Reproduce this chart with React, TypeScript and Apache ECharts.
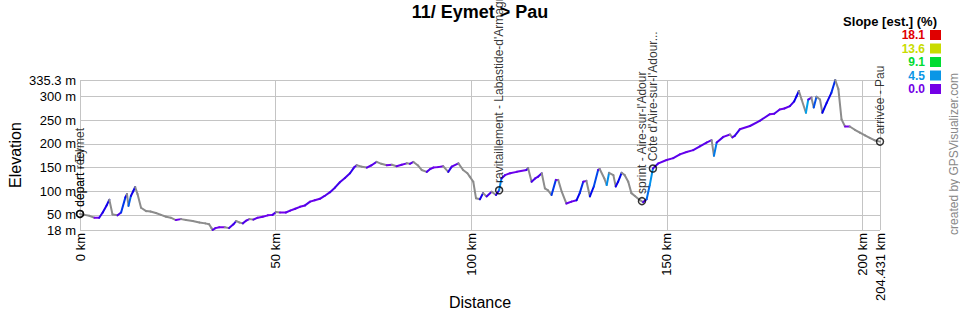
import React, { useEffect, useRef } from "react";
import * as echarts from "echarts";

const distanceKm = [
  0, 1.2, 2.4, 3.7, 4.9, 5.8, 6.8, 7.5, 8.3, 9.6, 10.5, 11.6, 12.0, 12.4, 13.0, 13.6, 14.1, 14.7, 15.6, 16.9,
  18.0, 19.4, 20.7, 22.0, 23.2, 24.5, 25.8, 27.1, 28.8, 30.5, 32.0, 33.0, 33.6, 33.9, 34.6, 35.6, 37.0, 38.1, 39.2, 39.9,
  40.7, 41.6, 42.5, 43.3, 44.3, 45.4, 46.7, 48.0, 49.2, 50.1, 51.1, 52.6, 53.7, 55.0, 56.2, 57.5, 58.8, 60.0, 61.3, 62.5,
  63.9, 65.2, 66.4, 67.7, 69.0, 70.0, 70.7, 72.0, 73.3, 74.5, 75.8, 77.0, 78.4, 79.7, 80.9, 82.2, 83.5, 84.3, 85.2, 86.3,
  87.3, 88.6, 89.5, 90.3, 91.5, 92.8, 94.1, 95.0, 96.7, 97.9, 99.0, 99.6, 100.5, 101.2, 102.2, 103.0, 103.9, 105.2, 106.3, 107.1,
  107.7, 108.6, 109.9, 111.6, 114.1, 114.5, 115.4, 116.3, 117.1, 118.0, 118.8, 119.6, 120.5, 121.6, 122.2, 123.1, 124.3, 125.6, 126.9, 127.7,
  128.6, 129.4, 130.3, 131.3, 132.4, 132.8, 134.0, 134.6, 135.2, 136.3, 136.9, 137.5, 138.4, 139.2, 140.1, 140.9, 141.8, 143.1, 143.9, 144.8,
  145.6, 146.4, 147.8, 149.9, 151.6, 153.3, 155.0, 156.7, 158.4, 160.1, 161.4, 162.0, 162.7, 164.4, 166.1, 166.7, 167.3, 168.6, 171.2, 173.7,
  176.3, 177.4, 178.8, 180.0, 181.4, 182.5, 183.1, 183.7, 184.4, 185.5, 186.1, 186.9, 187.5, 188.2, 189.1, 189.7, 190.8, 192.0, 193.0, 193.8,
  194.6, 195.5, 196.7, 198.0, 199.3, 200.6, 201.8, 203.0, 204.431
];

const elevationM = [
  52, 50, 48, 44, 44, 55, 70, 82, 51, 49, 55, 87, 94, 69, 90, 100, 109, 94, 65, 58,
  57, 54, 50, 46, 44, 39, 41, 39, 37, 34, 32, 30, 22, 18, 22, 24, 24, 22, 30, 37,
  34, 32, 38, 41, 40, 44, 46, 49, 50, 56, 55, 55, 59, 63, 67, 70, 78, 81, 84, 90,
  98, 108, 119, 128, 138, 150, 155, 152, 150, 155, 162, 158, 155, 156, 153, 156, 159, 158, 162, 155,
  145, 141, 147, 150, 151, 153, 141, 152, 159, 145, 138, 131, 120, 85, 83, 96, 89, 99, 92, 102,
  127, 134, 138, 141, 145, 149, 120, 127, 131, 138, 106, 102, 92, 124, 124, 99, 74, 78, 81, 96,
  120, 122, 89, 110, 145, 147, 127, 113, 139, 134, 110, 120, 139, 134, 120, 96, 90, 81, 77, 83,
  113, 148, 159, 166, 170, 178, 183, 187, 195, 203, 208, 175, 203, 215, 220, 214, 217, 231, 238, 249,
  263, 264, 273, 275, 280, 290, 301, 312, 294, 266, 294, 298, 277, 300, 294, 266, 287, 308, 335.3, 316,
  252, 237, 237, 230, 224, 218, 213, 208, 205
];

const waypointNames = [
  "départ réel",
  "départ - Eymet",
  "ravitaillement - Labastide-d'Armagnac",
  "sprint - Aire-sur-l'Adour",
  "Côte d'Aire-sur-l'Adour...",
  "arrivée - Pau",
];
const waypointKm = [0, 0, 107.1, 143.6, 146.4, 204.431];
const waypointElev = [52, 52, 102, 79, 148, 205];

const yTickValues = [18, 50, 100, 150, 200, 250, 300, 335.3];
const xTickValues = [0, 50, 100, 150, 200, 204.431];

const slopeLegendValues = [18.1, 13.6, 9.1, 4.5, 0.0];
const slopeLegendColors = ["#e00000", "#c8dc00", "#00dc32", "#0a96e6", "#7300e6"];
const slopeLegendHues = [0, 65, 134, 201, 270];

const FONT = "'Liberation Sans', Arial, sans-serif";

function hsvToRgb(h: number, s: number, v: number): string {
  const f = (n: number) => {
    const k = (n + h / 60) % 6;
    return v - v * s * Math.max(0, Math.min(k, 4 - k, 1));
  };
  return `rgb(${Math.round(f(5) * 255)},${Math.round(f(3) * 255)},${Math.round(f(1) * 255)})`;
}

function slopeColor(s: number): string {
  if (s < 0) return "#8c8c8c";
  const stops = slopeLegendValues
    .map((v, i) => [v, slopeLegendHues[i]] as [number, number])
    .sort((a, b) => a[0] - b[0]);
  let hue = stops[stops.length - 1][1];
  if (s < stops[stops.length - 1][0]) {
    for (let i = 1; i < stops.length; i++) {
      if (s <= stops[i][0]) {
        const t = (s - stops[i - 1][0]) / (stops[i][0] - stops[i - 1][0]);
        hue = stops[i - 1][1] + (stops[i][1] - stops[i - 1][1]) * t;
        break;
      }
    }
  }
  return hsvToRgb(hue, 1, 0.92);
}

export default function App() {
  const ref = useRef<HTMLDivElement>(null);

  useEffect(() => {
    if (!ref.current) return;
    const chart = echarts.init(ref.current, undefined, { renderer: "svg" });

    const segments: number[][] = [];
    for (let i = 1; i < distanceKm.length; i++) {
      const dd = (distanceKm[i] - distanceKm[i - 1]) * 1000;
      const slope = ((elevationM[i] - elevationM[i - 1]) / dd) * 100;
      segments.push([distanceKm[i - 1], elevationM[i - 1], distanceKm[i], elevationM[i], slope]);
    }

    const legendRowsY = [35, 48.5, 62, 75.5, 89];
    const graphics: any[] = [
      {
        type: "text",
        x: 480,
        y: 12,
        style: {
          text: "11/ Eymet > Pau",
          fontSize: 18,
          fontWeight: "bold",
          fontFamily: FONT,
          fill: "#000",
          align: "center",
          verticalAlign: "middle",
        },
      },
      {
        type: "text",
        x: 937,
        y: 21,
        style: {
          text: "Slope [est.] (%)",
          fontSize: 13,
          fontWeight: "bold",
          fontFamily: FONT,
          fill: "#000",
          align: "right",
          verticalAlign: "middle",
        },
      },
      {
        type: "text",
        x: 954,
        y: 154,
        rotation: Math.PI / 2,
        style: {
          text: "created by GPSVisualizer.com",
          fontSize: 12,
          fontFamily: FONT,
          fill: "#888888",
          align: "center",
          verticalAlign: "middle",
        },
      },
    ];
    slopeLegendValues.forEach((v, i) => {
      graphics.push({
        type: "text",
        x: 925,
        y: legendRowsY[i],
        style: {
          text: v.toFixed(1),
          fontSize: 12,
          fontWeight: "bold",
          fontFamily: FONT,
          fill: slopeLegendColors[i],
          align: "right",
          verticalAlign: "middle",
        },
      });
      graphics.push({
        type: "rect",
        shape: { x: 930, y: legendRowsY[i] - 5, width: 11, height: 10 },
        style: { fill: slopeLegendColors[i] },
      });
    });

    chart.setOption({
      animation: false,
      grid: {
        left: 80,
        top: 80,
        right: 80,
        bottom: 80,
        containLabel: false,
        outerBoundsMode: "none",
      },
      xAxis: {
        type: "value",
        min: 0,
        max: 204.431,
        name: "Distance",
        nameLocation: "middle",
        nameGap: 64,
        nameMoveOverlap: false,
        nameTextStyle: { fontSize: 16, fontFamily: FONT, color: "#000" },
        axisLine: { show: false },
        axisTick: { show: false, customValues: xTickValues },
        axisLabel: {
          customValues: xTickValues,
          rotate: 90,
          margin: 3,
          fontSize: 13,
          fontFamily: FONT,
          color: "#000",
          formatter: (v: number) => `${v} km`,
        },
        splitLine: { show: true, lineStyle: { color: "#c4c4c4", width: 1 } },
      },
      yAxis: {
        type: "value",
        min: 18,
        max: 335.3,
        name: "Elevation",
        nameLocation: "middle",
        nameGap: 57,
        nameMoveOverlap: false,
        nameTextStyle: { fontSize: 16, fontFamily: FONT, color: "#000" },
        axisLine: { show: false },
        axisTick: { show: false, customValues: yTickValues },
        axisLabel: {
          customValues: yTickValues,
          margin: 4,
          fontSize: 13,
          fontFamily: FONT,
          color: "#000",
          formatter: (v: number) => `${v} m`,
        },
        splitLine: { show: true, lineStyle: { color: "#c4c4c4", width: 1 } },
      },
      graphic: graphics,
      series: [
        {
          type: "custom",
          silent: true,
          encode: { x: [0, 2], y: [1, 3] },
          data: segments,
          renderItem: (params: any, api: any) => {
            const p0 = api.coord([api.value(0), api.value(1)]);
            const p1 = api.coord([api.value(2), api.value(3)]);
            return {
              type: "line",
              shape: { x1: p0[0], y1: p0[1], x2: p1[0], y2: p1[1] },
              style: { stroke: slopeColor(api.value(4)), lineWidth: 2, lineCap: "round" },
            };
          },
        },
        {
          type: "scatter",
          silent: true,
          symbol: "circle",
          symbolSize: 7,
          itemStyle: { color: "rgba(0,0,0,0)", borderColor: "#000", borderWidth: 1.5 },
          label: {
            show: true,
            formatter: "{b}",
            position: "top",
            distance: 3,
            rotate: 90,
            align: "left",
            verticalAlign: "middle",
            fontSize: 12,
            fontFamily: FONT,
            color: "#000",
          },
          data: waypointNames.map((n, i) => ({ name: n, value: [waypointKm[i], waypointElev[i]] })),
          z: 5,
        },
      ],
    });

    return () => chart.dispose();
  }, []);

  return (
    <div
      ref={ref}
      style={{ position: "absolute", left: 0, top: 0, width: 960, height: 310, background: "#fff" }}
    />
  );
}
